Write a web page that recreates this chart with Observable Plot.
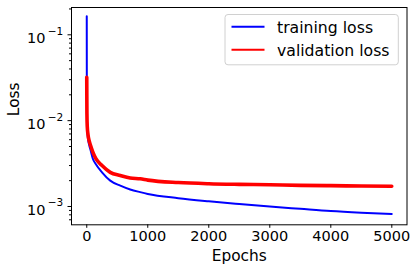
<!DOCTYPE html>
<html>
<head>
<meta charset="utf-8">
<script src="https://cdn.jsdelivr.net/npm/d3@7"></script>
<script src="https://cdn.jsdelivr.net/npm/@observablehq/plot@0.6"></script>
<style>
  html, body { margin: 0; padding: 0; background: #fff; }
  svg { display: block; }
</style>
</head>
<body>
<div id="chart"></div>
<script>
// ---- data ----
const epochs         = [0,     1,     3,     8,      20,     40,     60,     100,    150,    250,    385,    550,     712,     876,     1000,    1500,    2000,    2500,    3000,    3500,    4000,     4500,     4999];
const trainingLoss   = [0.165, 0.030, 0.012, 0.0082, 0.0062, 0.0052, 0.0046, 0.0036, 0.0031, 0.0025, 0.0020, 0.00175, 0.00158, 0.00147, 0.0014,  0.00125, 0.00115, 0.00107, 0.00100, 0.00094, 0.000885, 0.000848, 0.00082];
const validationLoss = [0.032, 0.020, 0.012, 0.0086, 0.0069, 0.0058, 0.0052, 0.0043, 0.0036, 0.0030, 0.0025, 0.0023,  0.00215, 0.0021,  0.00203, 0.0019,  0.00184, 0.00181, 0.00179, 0.00176, 0.00175,  0.00173,  0.00172];
const seriesNames  = ["training loss", "validation loss"];
const seriesColors = ["#0000ff", "#ff0000"];
const xTicks       = [0, 1000, 2000, 3000, 4000, 5000];
const yMajorTicks  = [1e-3, 1e-2, 1e-1];
const yExponents   = ["−3", "−2", "−1"];
const yMinorTicks  = [];
for (const p of [1e-4, 1e-3, 1e-2, 1e-1]) for (let m = 2; m <= 9; m++) yMinorTicks.push(+(m * p).toPrecision(3));

const yDomain = [6.12e-4, 0.208];
const trainRows = epochs.map((e, i) => ({epoch: e, loss: trainingLoss[i], series: seriesNames[0]}));
const valRows   = epochs.map((e, i) => ({epoch: e, loss: validationLoss[i], series: seriesNames[1]}));
const minorIn = yMinorTicks.filter(v => v >= yDomain[0] && v <= yDomain[1]);

const chart = Plot.plot({
  width: 418,
  height: 272,
  marginLeft: 71,
  marginRight: 11.5,
  marginTop: 7,
  marginBottom: 47.7,
  style: {fontFamily: "DejaVu Sans", fontSize: "14.5px", background: "#fff", color: "#000", overflow: "visible"},
  x: {domain: [-250, 5249]},
  y: {type: "log", domain: yDomain},
  color: {domain: seriesNames, range: seriesColors},
  marks: [
    Plot.line(trainRows, {x: "epoch", y: "loss", stroke: "series", strokeWidth: 2, curve: "monotone-x"}),
    Plot.line(valRows, {x: "epoch", y: "loss", stroke: "series", strokeWidth: 3.6, curve: "monotone-x"}),
    Plot.frame({stroke: "#000", strokeWidth: 1}),
    Plot.axisX({ticks: xTicks, tickSize: 3.5, tickPadding: 2.6, tickFormat: d => String(d), fontSize: 14.5, label: null, stroke: "#000"}),
    Plot.axisY({ticks: yMajorTicks, tickSize: 3.5, tickFormat: () => "", label: null, stroke: "#000"}),
    Plot.axisY({ticks: minorIn, tickSize: 2, tickFormat: () => "", label: null, stroke: "#000"}),
    Plot.axisY({ticks: yMajorTicks, tickSize: 0, tickPadding: 26, tickFormat: () => "10", fontSize: 14.5, dy: 3.4, label: null}),
    Plot.axisY({ticks: yMajorTicks, tickSize: 0, tickPadding: 8.3, tickFormat: d => yExponents[yMajorTicks.indexOf(d)], fontSize: 10.5, dy: -3.5, label: null}),
    Plot.text(["Epochs"], {text: d => d, frameAnchor: "bottom", dy: 36, fontSize: 15.4}),
    Plot.text(["Loss"], {text: d => d, frameAnchor: "left", dx: -57, rotate: -90, fontSize: 15.4})
  ]
});

// legend inside the axes (upper right)
const svg = d3.select(chart);
const lg = svg.append("g").attr("font-family", "DejaVu Sans").attr("font-size", "15.7px").attr("text-anchor", "start");
lg.append("rect")
  .attr("x", 225).attr("y", 14.5).attr("width", 173.3).attr("height", 50.3)
  .attr("rx", 3).attr("fill", "#fff").attr("fill-opacity", 0.8)
  .attr("stroke", "#d0d0d0").attr("stroke-width", 1);
seriesNames.forEach((name, i) => {
  const y = 26.7 + i * 23;
  lg.append("line").attr("x1", 231.5).attr("x2", 264.5).attr("y1", y).attr("y2", y)
    .attr("stroke", seriesColors[i]).attr("stroke-width", 2);
  lg.append("text").attr("x", 277).attr("y", y + 5.8).attr("fill", "#000").attr("text-anchor", "start").text(name);
});

document.getElementById("chart").appendChild(chart);
</script>
</body>
</html>
